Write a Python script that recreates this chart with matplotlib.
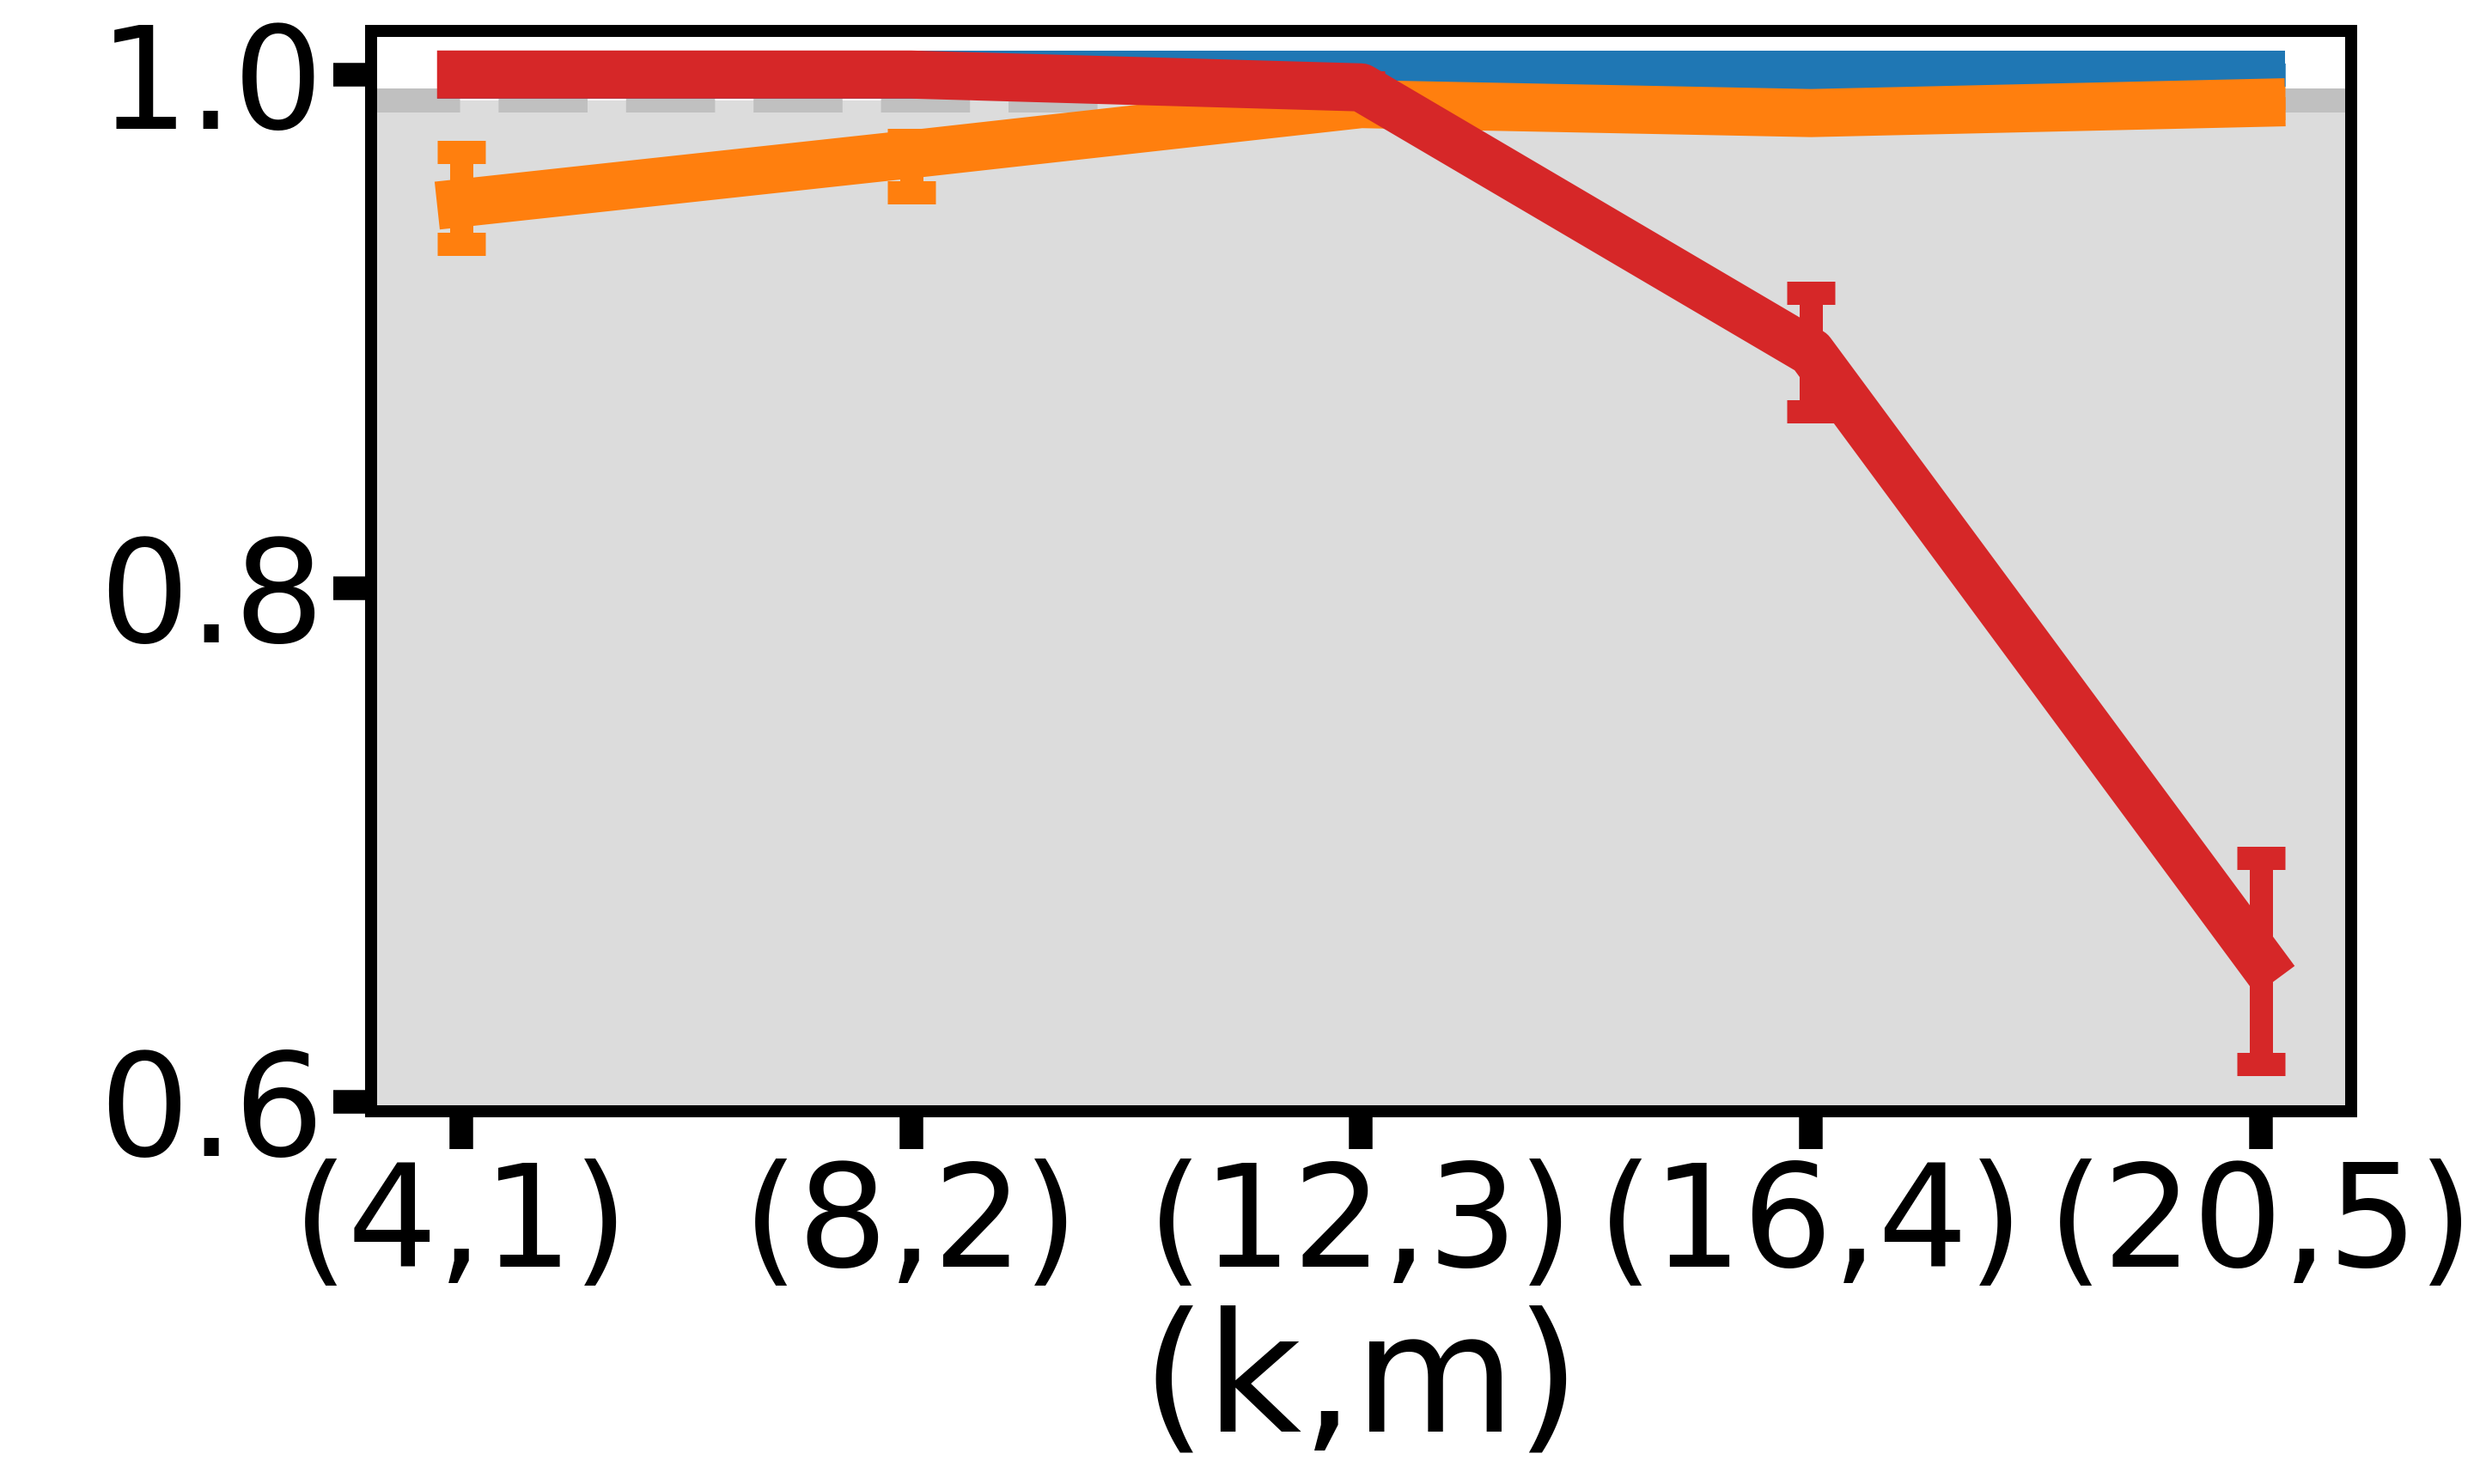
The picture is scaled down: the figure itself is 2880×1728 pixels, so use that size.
import matplotlib
matplotlib.use("Agg")
import matplotlib.pyplot as plt

labels = ['(4,1)', '(8,2)', '(12,3)', '(16,4)', '(20,5)']
blue = [1.0, 1.0, 1.0, 1.0, 1.0]
orange = [0.950, 0.969, 0.9885, 0.985, 0.989]
orange_err_lo = [0.016, 0.015, 0.002, 0.002, 0.002]
orange_err_hi = [0.020, 0.0055, 0.002, 0.002, 0.002]
red = [1.0, 1.0, 0.995, 0.892, 0.655]
red_err = [0.0, 0.0, 0.002, 0.023, 0.040]
threshold = 0.99

fig = plt.figure(figsize=(8, 4.8), dpi=360)
ax = fig.add_axes([0.15, 0.2512, 0.8003, 0.728])

x = list(range(len(labels)))
ax.axhspan(0.0, threshold, color='gainsboro', lw=0, zorder=0)
ax.axhline(threshold, color='silver', lw=5.6, ls='--', zorder=1)

common = dict(lw=11.2, elinewidth=5.4, capthick=5.4, capsize=5.6)
ax.errorbar(x, blue, yerr=[0]*5, color='#1f77b4', zorder=2, **common)
ax.errorbar(x, orange, yerr=[orange_err_lo, orange_err_hi], color='#ff7f0e', zorder=3, **common)
ax.errorbar(x, red, yerr=red_err, color='#d62728', zorder=4, **common)

ax.set_xlim(-0.2, 4.2)
ax.set_ylim(0.5965, 1.017)
ax.set_xticks(x)
ax.set_xticklabels(labels)
ax.set_yticks([0.6, 0.8, 1.0])
ax.set_yticklabels(['0.6', '0.8', '1.0'])
ax.tick_params(axis='both', labelsize=33, length=8.8, width=5.5, pad=2.2, color='black')
ax.set_xlabel('(k,m)', fontsize=38.6, labelpad=2)
for s in ax.spines.values():
    s.set_linewidth(2.8)
    s.set_color('black')
ax.set_facecolor('white')

fig.savefig('out.png', dpi=360)
